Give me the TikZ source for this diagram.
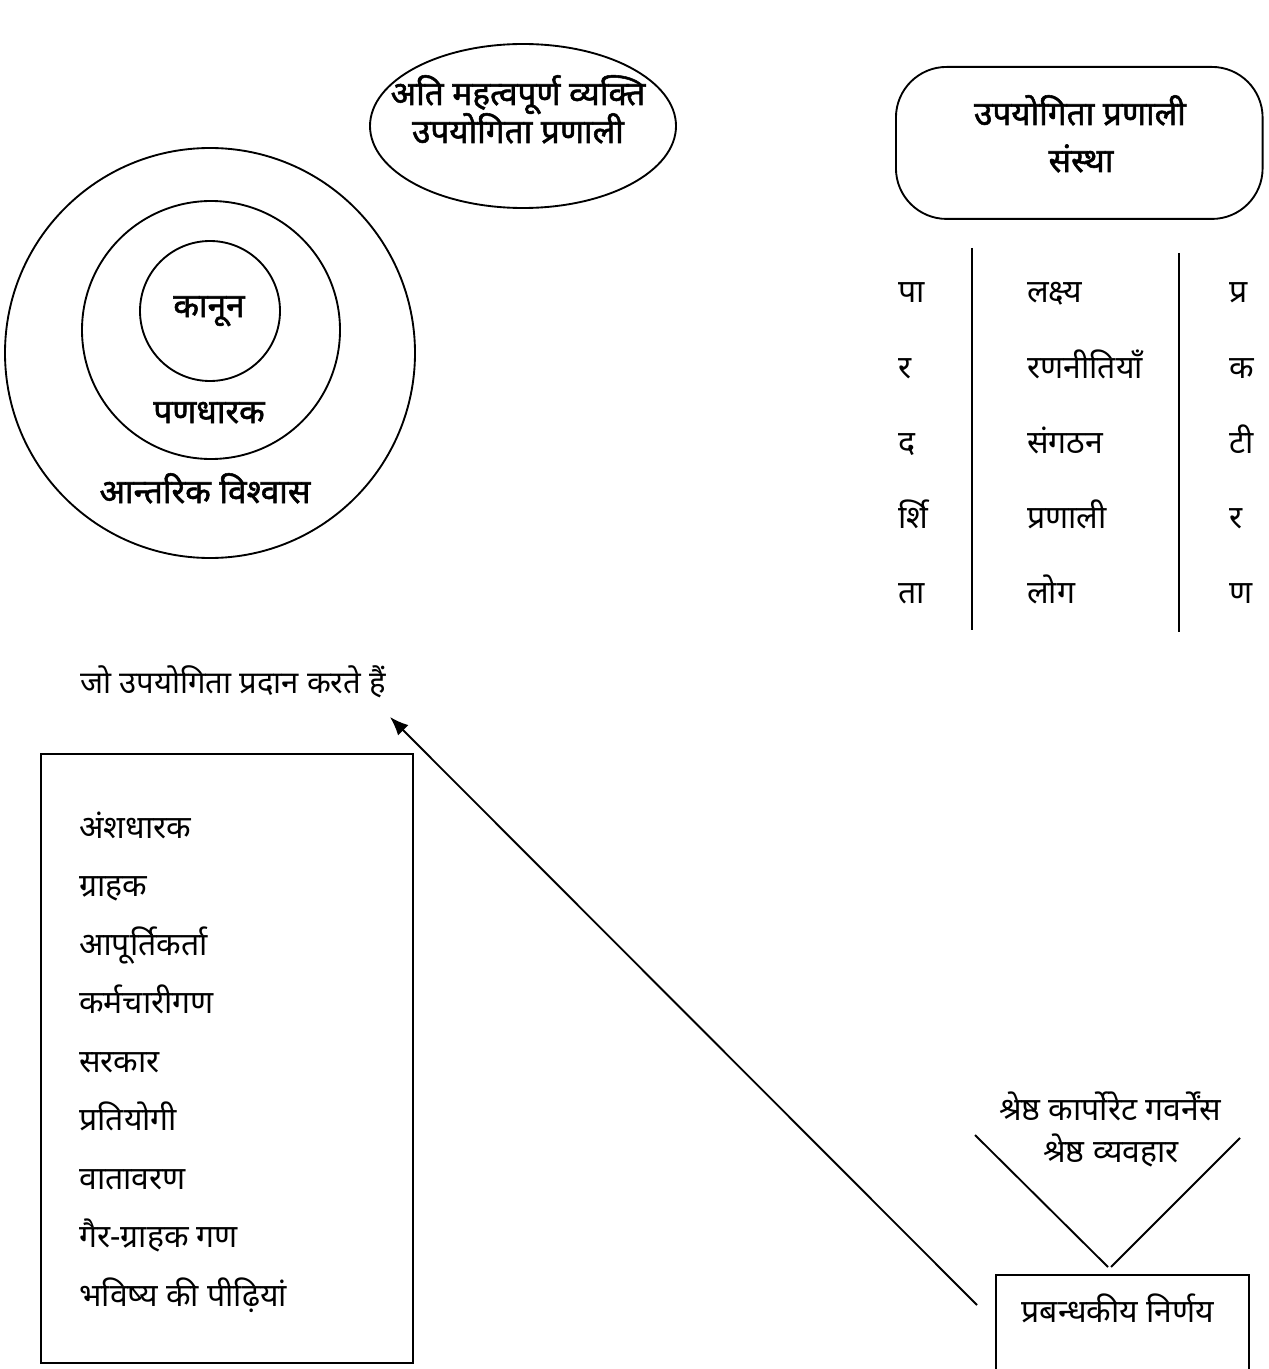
\documentclass[tikz,border=0pt]{standalone}
\usepackage{fontspec}
\setmainfont{Noto Sans}[Script=Devanagari]
\newfontfamily\headfont{Noto Sans}[Script=Devanagari, FakeBold=1.6]
\usetikzlibrary{arrows.meta,positioning,shapes.geometric}

\begin{document}
\begin{tikzpicture}[
  x=0.75pt, y=-0.75pt,
  font=\fontsize{24}{28}\selectfont,
  ring/.style={draw, circle, line width=1.4pt, inner sep=0pt},
  box/.style={draw, line width=1.4pt, inner sep=0pt, anchor=north west},
  txt/.style={inner sep=0pt, anchor=base},
  head/.style={txt, font=\fontsize{25}{29}\headfont},
  item/.style={inner sep=0pt, anchor=base west},
  rule/.style={line width=1.4pt},
  arrow/.style={-{Latex[length=14pt,width=11pt]}, line width=1.4pt}
]
\useasboundingbox (0,0) rectangle (1269,1369);

% --- Ellipse at the top ------------------------------------------------------
\node[ellipse, draw, line width=1.4pt, minimum width=229.5pt, minimum height=123pt] (vip) at (523,126) {};
\node[head] (vip1) at (518,105) {अति महत्वपूर्ण व्यक्ति};
\node[head] (vip2) at (518,143) {उपयोगिता प्रणाली};

% --- Rounded box, top right --------------------------------------------------
\node[box, rounded corners=38pt, minimum width=275pt, minimum height=114pt] (org) at (895,66) {};
\node[head] (org1) at (1080,125) {उपयोगिता प्रणाली};
\node[head] (org2) at (1081,172) {संस्था};

% --- Three rings -------------------------------------------------------------
\node[ring, minimum size=307.5pt] (trust) at (210,353) {};
\node[ring, minimum size=193.5pt] (stake) at (211,330) {};
\node[ring, minimum size=105pt] (law) at (210,311) {};
\node[head] (lawT) at (209,317) {कानून};
\node[head] (stakeT) at (209,423) {पणधारक};
\node[head] (trustT) at (205,503) {आन्तरिक विश्वास};

% --- Columns under the rounded box -------------------------------------------
\draw[rule] (972,248) -- (972,630);
\draw[rule] (1179,253) -- (1179,632);

\node[item] (p1) at (898,303) {पा};
\node[item] (p2) at ([shift={(0,75)}]p1.base west) {र};
\node[item] (p3) at ([shift={(0,75)}]p2.base west) {द};
\node[item] (p4) at ([shift={(0,75)}]p3.base west) {र्शि};
\node[item] (p5) at ([shift={(0,75)}]p4.base west) {ता};

\node[item] (m1) at (1027,303) {लक्ष्य};
\node[item] (m2) at ([shift={(0,75)}]m1.base west) {रणनीतियाँ};
\node[item] (m3) at ([shift={(0,75)}]m2.base west) {संगठन};
\node[item] (m4) at ([shift={(0,75)}]m3.base west) {प्रणाली};
\node[item] (m5) at ([shift={(0,75)}]m4.base west) {लोग};

\node[item] (r1) at (1229,303) {प्र};
\node[item] (r2) at ([shift={(0,75)}]r1.base west) {क};
\node[item] (r3) at ([shift={(0,75)}]r2.base west) {टी};
\node[item] (r4) at ([shift={(0,75)}]r3.base west) {र};
\node[item] (r5) at ([shift={(0,75)}]r4.base west) {ण};

% --- Stakeholder list --------------------------------------------------------
\node[item, font=\fontsize{23.3}{27}\selectfont] (offer) at (80,693) {जो उपयोगिता प्रदान करते हैं};
\node[box, minimum width=279pt, minimum height=456.75pt] (list) at (40,753) {};

\node[item] (s1) at (79,838) {अंशधारक};
\node[item] (s2) at ([shift={(0,58.5)}]s1.base west) {ग्राहक};
\node[item] (s3) at ([shift={(0,58.5)}]s2.base west) {आपूर्तिकर्ता};
\node[item] (s4) at ([shift={(0,58.5)}]s3.base west) {कर्मचारीगण};
\node[item] (s5) at ([shift={(0,58.5)}]s4.base west) {सरकार};
\node[item] (s6) at ([shift={(0,58.5)}]s5.base west) {प्रतियोगी};
\node[item] (s7) at ([shift={(0,58.5)}]s6.base west) {वातावरण};
\node[item] (s8) at ([shift={(0,58.5)}]s7.base west) {गैर-ग्राहक गण};
\node[item] (s9) at ([shift={(0,58.5)}]s8.base west) {भविष्य की पीढ़ियां};

% --- Decision box, bottom right ----------------------------------------------
\node[box, minimum width=189.75pt, minimum height=82.5pt] (dec) at (995,1274) {};
\node[txt] (decT) at (1118,1322) {प्रबन्धकीय निर्णय};
\node[txt] (best1) at (1110,1120) {श्रेष्ठ कार्पोरेट गवर्नेंस};
\node[txt] (best2) at (1111,1162) {श्रेष्ठ व्यवहार};

\coordinate (vl) at (975,1135);
\coordinate (vr) at (1240,1138);
\draw[rule] (vl) -- ([shift={(113,-7)}]dec.north west);
\draw[rule] (vr) -- ([shift={(116,-7)}]dec.north west);

\draw[arrow] ([shift={(-18,31)}]dec.north west) -- ([shift={(310,24)}]offer.base west);

\end{tikzpicture}
\end{document}
